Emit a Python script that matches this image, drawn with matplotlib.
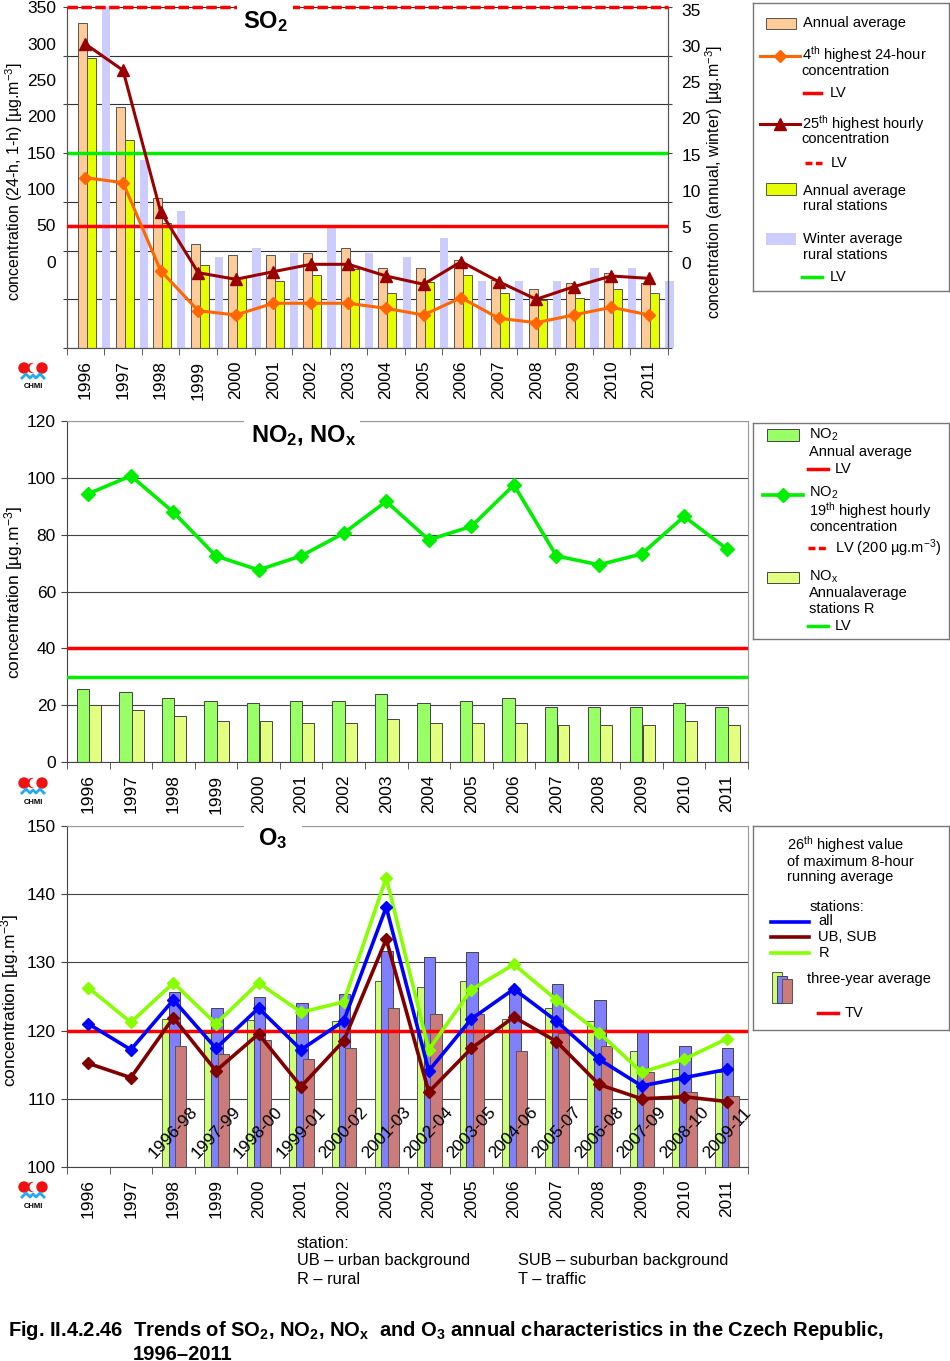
import numpy as np
import matplotlib.pyplot as plt
from matplotlib.patches import Rectangle, Circle

plt.rcParams['font.family'] = ['Liberation Sans', 'DejaVu Sans']
plt.rcParams['mathtext.fontset'] = 'custom'
plt.rcParams['mathtext.rm'] = 'Liberation Sans'
plt.rcParams['mathtext.it'] = 'Liberation Sans:italic'
plt.rcParams['mathtext.bf'] = 'Liberation Sans:bold'

W, H = 950, 1361

years = [str(y) for y in range(1996, 2012)]

# SO2 - bars on right axis (annual, winter), lines on left axis (24-h, 1-h)
so2_annual = [33.4, 24.7, 15.4, 10.7, 9.5, 9.5, 9.7, 10.3, 8.2, 8.2, 9.0, 7.0, 6.1, 6.7, 7.7, 6.7]
so2_rural = [29.8, 21.3, 12.8, 8.5, 7.2, 6.9, 7.5, 8.1, 5.6, 6.8, 7.5, 5.6, 4.9, 5.1, 6.1, 5.6]
so2_winter = [35.0, 19.3, 14.1, 9.3, 10.3, 9.7, 12.3, 9.7, 9.3, 11.3, 6.9, 6.9, 6.9, 8.2, 8.2, 6.9]
so2_24h = [174.8, 169.7, 79.4, 38.3, 33.9, 45.9, 45.9, 45.9, 40.7, 33.9, 51.7, 30.5, 26.0, 33.9, 41.8, 33.9]
so2_1h = [312, 285, 140, 77.3, 70.5, 78.3, 85.9, 85.9, 73.9, 65.4, 88.6, 68.1, 50.0, 62.9, 73.9, 71.5]
so2_lv_24h = 125
so2_lv_1h = 350
so2_lv_eco = 20

# NO2, NOx
no2_annual = [25.7, 24.8, 22.4, 21.6, 20.9, 21.6, 21.6, 24.1, 20.9, 21.6, 22.4, 19.3, 19.3, 19.3, 20.9, 19.3]
nox_rural = [20.1, 18.4, 16.1, 14.4, 14.4, 13.6, 13.6, 15.3, 13.6, 13.6, 13.6, 12.9, 12.9, 12.9, 14.4, 12.9]
no2_19th = [94.4, 100.7, 87.9, 72.5, 67.6, 72.5, 80.5, 91.7, 78.2, 82.9, 97.5, 72.5, 69.4, 73.2, 86.4, 75.0]
no2_lv = 40
nox_lv = 30

# O3
o3_all = [121.0, 117.2, 124.5, 117.4, 123.3, 117.2, 121.4, 138.1, 114.1, 121.7, 126.1, 121.4, 115.8, 111.9, 113.1, 114.3]
o3_ub = [115.2, 113.1, 121.9, 114.1, 119.5, 111.8, 118.5, 133.4, 111.0, 117.4, 122.0, 118.4, 112.1, 110.0, 110.3, 109.6]
o3_r = [126.3, 121.2, 127.0, 121.0, 127.0, 122.7, 124.2, 142.4, 117.2, 126.0, 129.7, 124.5, 119.7, 113.9, 115.8, 118.8]
periods = ['1996-98', '1997-99', '1998-00', '1999-01', '2000-02', '2001-03', '2002-04',
           '2003-05', '2004-06', '2005-07', '2006-08', '2007-09', '2008-10', '2009-11']
o3_3y_r = [121.7, 119.7, 121.6, 119.7, 121.4, 127.2, 126.4, 127.2, 121.7, 123.3, 121.4, 117.0, 114.3, 114.0]
o3_3y_all = [125.6, 123.3, 124.9, 124.1, 125.3, 131.6, 130.8, 131.5, 126.0, 126.8, 124.5, 120.1, 117.8, 117.4]
o3_3y_ub = [117.8, 116.6, 118.6, 115.8, 117.4, 123.3, 122.5, 122.5, 117.0, 119.7, 117.8, 113.9, 111.0, 110.4]
o3_tv = 120

x = np.arange(len(years))
xp = np.arange(2, 2 + len(periods))

fig = plt.figure(figsize=(W / 100, H / 100), dpi=100)


def px_axes(x0, y0, x1, y1):
    return fig.add_axes([x0 / W, 1 - y1 / H, (x1 - x0) / W, (y1 - y0) / H])


def ftext(px, py, s, **kw):
    return fig.text(px / W, 1 - py / H, s, **kw)


def white_gap(x0, x1, y0, y1):
    fig.patches.append(Rectangle((x0 / W, 1 - y1 / H), (x1 - x0) / W, (y1 - y0) / H,
                                 transform=fig.transFigure, facecolor='white',
                                 edgecolor='none', zorder=1))


def year_axis(ax):
    ax.set_xlim(-0.5, 15.5)
    ax.set_xticks(x)
    ax.set_xticklabels(years, rotation=90, fontsize=12.5)
    ax.set_xticks(np.arange(-0.5, 16, 1), minor=True)
    ax.tick_params(axis='x', which='major', length=0, pad=9)
    ax.tick_params(axis='x', which='minor', length=5, direction='out', color='#444')


def logo(x0, y0):
    a = px_axes(x0, y0, x0 + 30, y0 + 30)
    a.set_xlim(0, 30)
    a.set_ylim(30, 0)
    a.axis('off')
    a.add_patch(Circle((6, 6), 5, color='#EE1111'))
    a.add_patch(Circle((14.5, 6), 4.5, color='#EE1111'))
    a.add_patch(Circle((16.5, 6), 4.2, color='white'))
    a.add_patch(Circle((24, 6), 5, color='#EE1111'))
    a.plot([4, 8, 12, 15, 18, 22, 26], [16, 12, 16, 13, 16, 12, 16], color='#22AAEE', lw=2)
    a.text(15, 25, 'CHMI', fontsize=5.5, fontweight='bold', ha='center', va='center')


def legend_box(x0, y0, x1, y1, lx0, ly0):
    a = px_axes(x0, y0, x1, y1)
    a.set_xlim(lx0, lx0 + (x1 - x0))
    a.set_ylim(ly0 + (y1 - y0), ly0)
    a.set_xticks([])
    a.set_yticks([])
    for s in a.spines.values():
        s.set_color('#777777')
        s.set_linewidth(1)
    return a


def ltxt(a, px, py, s):
    a.text(px, py, s, fontsize=10.5, va='center', ha='left')


# ---------------------------------------------------------------- SO2
ax1 = px_axes(66.7, 7, 667.7, 348)
ax1r = ax1.twinx()
ax1.set_zorder(ax1r.get_zorder() + 1)
ax1.patch.set_visible(False)

ax1.set_ylim(0, 350)
ax1r.set_ylim(0, 35)
ax1.set_yticks(np.arange(0, 351, 50))
ax1.set_yticklabels([])
ax1r.set_yticks(np.arange(0, 36, 5))
ax1r.set_yticklabels([])
ax1.tick_params(axis='y', length=3, color='#444')
ax1r.tick_params(axis='y', length=3, color='#444')
ax1r.grid(axis='y', color='#333333', lw=0.8)
ax1r.set_axisbelow(True)

ax1r.bar(x - 0.08, so2_annual, 0.24, color='#FFCC99', edgecolor='#555555', lw=0.7, zorder=2)
ax1r.bar(x + 0.16, so2_rural, 0.24, color='#E5FF00', edgecolor='#555555', lw=0.7, zorder=2)
ax1r.bar(x + 0.55, so2_winter, 0.22, color='#CCCCFF', edgecolor='none', zorder=1, clip_on=False)
ax1r.axhline(so2_lv_eco, color='#00EE00', lw=2.5, zorder=5)

ax1.axhline(so2_lv_24h, color='#FF0000', lw=2.5, zorder=3)
ax1.axhline(so2_lv_1h, color='#FF0000', lw=2.5, ls=(0, (3, 1)), zorder=3, clip_on=False)
ax1.plot(x, so2_24h, color='#FF6600', lw=2.2, marker='D', ms=6.5, zorder=4)
ax1.plot(x, so2_1h, color='#990000', lw=2.2, marker='^', ms=8, zorder=4)

year_axis(ax1)
for a in (ax1, ax1r):
    a.spines['top'].set_visible(False)
    for s in ('left', 'right', 'bottom'):
        a.spines[s].set_color('#555555')

# tick labels of the SO2 panel sit on their own (compressed) scales
labl = px_axes(65.7, 7.3, 66.7, 261.7)
labl.set_ylim(0, 350)
labl.set_yticks(np.arange(0, 351, 50))
labl.tick_params(axis='y', length=0, pad=7, labelsize=12.5)
labl.set_xticks([])
labl.patch.set_visible(False)
for s in labl.spines.values():
    s.set_visible(False)

labr = px_axes(667.7, 10, 668.7, 263)
labr.set_ylim(0, 35)
labr.set_yticks(np.arange(0, 36, 5))
labr.yaxis.tick_right()
labr.tick_params(axis='y', length=0, pad=9, labelsize=12.5)
labr.set_xticks([])
labr.patch.set_visible(False)
for s in labr.spines.values():
    s.set_visible(False)

ftext(14, 182, r'concentration (24-h, 1-h) [µg.m$^{-3}$]', rotation=90, ha='center', va='center', fontsize=11.5)
ftext(714, 182, r'concentration (annual, winter) [µg.m$^{-3}$]', rotation=90, ha='center', va='center', fontsize=11.5)
white_gap(237, 293, 3, 38)
ftext(265, 22, r'SO$_\mathbf{2}$', fontsize=17, fontweight='bold', ha='center', va='center')
logo(18, 362)

lg = legend_box(752.7, 3, 949, 291, 2.7, 3)
lg.add_patch(Rectangle((15.7, 18.3), 30, 11, facecolor='#FFCC99', edgecolor='#555555', lw=0.7))
ltxt(lg, 53.3, 23.3, 'Annual average')
lg.plot([10, 50], [56, 56], color='#FF6600', lw=2.2)
lg.plot([30], [56], color='#FF6600', marker='D', ms=6.5)
ltxt(lg, 51.7, 55, r'4$^{\mathrm{th}}$ highest 24-hour')
ltxt(lg, 51.7, 70.7, 'concentration')
lg.plot([54, 71], [92.7, 92.7], color='#FF0000', lw=2.5)
ltxt(lg, 80, 92.7, 'LV')
lg.plot([10, 50], [124, 124], color='#990000', lw=2.2)
lg.plot([30], [124], color='#990000', marker='^', ms=8)
ltxt(lg, 51.7, 123.3, r'25$^{\mathrm{th}}$ highest hourly')
ltxt(lg, 51.7, 139.3, 'concentration')
lg.plot([55, 72], [163.3, 163.3], color='#FF0000', lw=2.5, ls=(0, (2, 1)))
ltxt(lg, 81, 163.3, 'LV')
lg.add_patch(Rectangle((15.7, 183.3), 30, 11.7, facecolor='#E5FF00', edgecolor='#555555', lw=0.7))
ltxt(lg, 53.3, 190.7, 'Annual average')
ltxt(lg, 53.3, 206, 'rural stations')
lg.add_patch(Rectangle((15.7, 233), 30, 12, facecolor='#CCCCFF', edgecolor='none'))
ltxt(lg, 53.3, 239.3, 'Winter average')
ltxt(lg, 53.3, 255, 'rural stations')
lg.plot([51.7, 71.7], [277.3, 277.3], color='#00EE00', lw=2.5)
ltxt(lg, 80, 277.3, 'LV')

# ---------------------------------------------------------------- NO2, NOx
ax2 = px_axes(67, 421, 748, 762)
ax2.set_ylim(0, 120)
ax2.set_yticks(np.arange(0, 121, 20))
ax2.tick_params(axis='y', length=4, color='#444', labelsize=12.5, pad=4)
ax2.grid(axis='y', color='#444444', lw=0.8)
ax2.set_axisbelow(True)
ax2.bar(x - 0.125, no2_annual, 0.29, color='#99FF66', edgecolor='#444444', lw=0.7, zorder=2)
ax2.bar(x + 0.165, nox_rural, 0.28, color='#E2FF80', edgecolor='#444444', lw=0.7, zorder=2)
ax2.axhline(no2_lv, color='#FF0000', lw=2.5, zorder=3)
ax2.axhline(nox_lv, color='#00EE00', lw=2.5, zorder=3)
ax2.plot(x, no2_19th, color='#00EE00', lw=2.6, marker='D', ms=7, zorder=4)
year_axis(ax2)
for s in ('left', 'bottom'):
    ax2.spines[s].set_color('#444444')
for s in ('top', 'right'):
    ax2.spines[s].set_color('#999999')
ftext(14, 592, r'concentration [µg.m$^{-3}$]', rotation=90, ha='center', va='center', fontsize=12.5)
white_gap(244, 360, 417, 425)
ftext(304, 436, r'NO$_\mathbf{2}$, NO$_\mathbf{x}$', fontsize=17, fontweight='bold', ha='center', va='center')
logo(18, 777)

lg = legend_box(752.7, 422.7, 949, 639, 2.7, 2.7)
lg.add_patch(Rectangle((16.7, 9.3), 32.6, 11.4, facecolor='#99FF66', edgecolor='#444444', lw=0.7))
ltxt(lg, 59.3, 15, r'NO$_2$')
ltxt(lg, 59.3, 31.7, 'Annual average')
lg.plot([58, 78], [49.3, 49.3], color='#FF0000', lw=2.5)
ltxt(lg, 85, 49.3, 'LV')
lg.plot([13, 53], [75, 75], color='#00EE00', lw=2.6)
lg.plot([33], [75], color='#00EE00', marker='D', ms=7)
ltxt(lg, 59.3, 72.7, r'NO$_2$')
ltxt(lg, 59.3, 90.7, r'19$^{\mathrm{th}}$ highest hourly')
ltxt(lg, 59.3, 106.7, 'concentration')
lg.plot([58, 78], [128.3, 128.3], color='#FF0000', lw=2.5, ls=(0, (2, 1)))
ltxt(lg, 85, 128.3, r'LV (200 µg.m$^{-3}$)')
lg.add_patch(Rectangle((16.7, 151.7), 32.6, 11.6, facecolor='#E2FF80', edgecolor='#444444', lw=0.7))
ltxt(lg, 59.3, 156.7, r'NO$_\mathrm{x}$')
ltxt(lg, 59.3, 173.3, 'Annualaverage')
ltxt(lg, 59.3, 189.3, 'stations R')
lg.plot([58, 78], [206, 206], color='#00EE00', lw=2.5)
ltxt(lg, 85, 206, 'LV')

# ---------------------------------------------------------------- O3
ax3 = px_axes(67, 826, 748, 1167)
ax3.set_ylim(100, 150)
ax3.set_yticks(np.arange(100, 151, 10))
ax3.tick_params(axis='y', length=4, color='#444', labelsize=12.5, pad=4)
ax3.grid(axis='y', color='#444444', lw=0.8)
ax3.set_axisbelow(True)
ax3.bar(xp - 0.14, o3_3y_r, 0.27, color='#CCFF77', edgecolor='#555555', lw=0.7, zorder=2)
ax3.bar(xp + 0.02, o3_3y_all, 0.27, color='#8080FF', edgecolor='#444444', lw=0.7, zorder=2.1)
ax3.bar(xp + 0.17, o3_3y_ub, 0.26, color='#CC7B7B', edgecolor='#555555', lw=0.7, zorder=2.2)
for xi, p in zip(xp, periods):
    ax3.text(xi, 105, p, rotation=47, rotation_mode='anchor', ha='center', va='center',
             fontsize=12.5, zorder=3)
ax3.axhline(o3_tv, color='#FF0000', lw=2.5, zorder=3)
ax3.plot(x, o3_r, color='#88FF00', lw=2.6, marker='D', ms=6, zorder=4)
ax3.plot(x, o3_all, color='#0000FF', lw=2.6, marker='D', ms=6, zorder=4.1)
ax3.plot(x, o3_ub, color='#800000', lw=2.6, marker='D', ms=6, zorder=4.2)
year_axis(ax3)
for s in ('left', 'bottom'):
    ax3.spines[s].set_color('#444444')
for s in ('top', 'right'):
    ax3.spines[s].set_color('#999999')
ftext(10, 1000, r'concentration [µg.m$^{-3}$]', rotation=90, ha='center', va='center', fontsize=12.5)
white_gap(244, 302, 822, 830)
ftext(273, 839, r'O$_\mathbf{3}$', fontsize=17, fontweight='bold', ha='center', va='center')
logo(18, 1181)

lg = legend_box(752.7, 826, 949, 1030, 2.7, 6)
ltxt(lg, 36.7, 25, r'26$^{\mathrm{th}}$ highest value')
ltxt(lg, 36.7, 41.7, 'of maximum 8-hour')
ltxt(lg, 36.7, 57.3, 'running average')
ltxt(lg, 59.3, 86.7, 'stations:')
lg.plot([20.7, 59.3], [101.7, 101.7], color='#0000FF', lw=2.6)
ltxt(lg, 68.3, 100.5, 'all')
lg.plot([20.7, 59.3], [117.3, 117.3], color='#800000', lw=2.6)
ltxt(lg, 68.3, 117, 'UB, SUB')
lg.plot([20.7, 59.3], [132.7, 132.7], color='#88FF00', lw=2.6)
ltxt(lg, 68.3, 133, 'R')
lg.add_patch(Rectangle((21.7, 151.7), 10, 31.6, facecolor='#CCFF77', edgecolor='#555555', lw=0.7))
lg.add_patch(Rectangle((27.3, 155.7), 9.4, 27.6, facecolor='#8080FF', edgecolor='#444444', lw=0.7))
lg.add_patch(Rectangle((32.3, 159.3), 9.4, 24, facecolor='#CC7B7B', edgecolor='#555555', lw=0.7))
ltxt(lg, 56.7, 159.3, 'three-year average')
lg.plot([67.7, 87.7], [193.3, 193.3], color='#FF0000', lw=2.5)
ltxt(lg, 95, 193.3, 'TV')

# ---------------------------------------------------------------- footer
ftext(297, 1243, 'station:', fontsize=11.8, va='center')
ftext(297, 1261, 'UB – urban background', fontsize=11.8, va='center')
ftext(297, 1279, 'R – rural', fontsize=11.8, va='center')
ftext(518, 1261, 'SUB – suburban background', fontsize=11.8, va='center')
ftext(518, 1279, 'T – traffic', fontsize=11.8, va='center')

ftext(8, 1331, r'Fig. II.4.2.46  Trends of SO$_\mathbf{2}$, NO$_\mathbf{2}$, NO$_\mathbf{x}$  and O$_\mathbf{3}$ '
      'annual characteristics in the Czech Republic,', fontsize=14.5, fontweight='bold', va='center')
ftext(133, 1354, '1996–2011', fontsize=14.5, fontweight='bold', va='center')

fig.savefig('out.png', dpi=100)
